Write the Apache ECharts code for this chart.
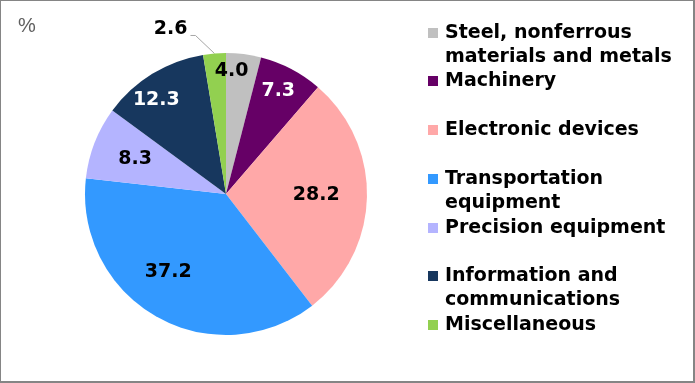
<!DOCTYPE html>
<html>
<head>
<meta charset="utf-8">
<script src="https://cdn.jsdelivr.net/npm/echarts@6/dist/echarts.min.js"></script>
<style>
html,body{margin:0;padding:0;background:#fff;}
#chart{width:695px;height:383px;box-sizing:border-box;border-style:solid;border-color:#858585;border-width:1px 2px 2px 1px;}
</style>
</head>
<body>
<div id="chart"></div>
<script>
// ---- data ----
const categories = [
  "Steel, nonferrous\nmaterials and metals",
  "Machinery",
  "Electronic devices",
  "Transportation\nequipment",
  "Precision equipment",
  "Information and\ncommunications",
  "Miscellaneous"
];
const shares = [4.0, 7.3, 28.2, 37.2, 8.3, 12.3, 2.6];
const unitLabel = "%";

// ---- style ----
const colors = ["#c0c0c0", "#660066", "#ffa8a8", "#3399ff", "#b4b4ff", "#17375e", "#92d050"];
const labelColors = ["#000", "#fff", "#000", "#000", "#000", "#fff", "#000"];
const labelRadiusFactor = [0.87, 0.82, 0.64, 0.69, 0.69, 0.83, null];
const labelAngleAdjust = [-4.6, -0.7, -0.8, 7, -0.5, -5, 0];
const legendLineCenters = [33, 81, 130, 179, 228, 276, 325];
const PIE_CX = 225, PIE_CY = 193, PIE_R = 141;
const FONT = "DejaVu Sans";
const LINE_H = 24;

const chart = echarts.init(document.getElementById('chart'), null, {renderer: 'canvas'});

const legends = categories.map((name, i) => {
  const twoLine = name.indexOf('\n') >= 0;
  return {
    show: true,
    orient: 'vertical',
    left: 427,
    top: twoLine ? legendLineCenters[i] - 36 - 1 : legendLineCenters[i] - 12 - 1,
    padding: 0,
    itemWidth: 10,
    itemHeight: 10,
    icon: 'rect',
    selectedMode: false,
    data: [name],
    formatter: n => (twoLine ? '\n' + n : n),
    textStyle: {
      fontFamily: FONT,
      fontWeight: 'bold',
      fontSize: 19,
      lineHeight: LINE_H,
      color: '#000',
      padding: [0, 0, 0, 2]
    }
  };
});

const pieData = categories.map((name, i) => {
  const d = {
    name: name,
    value: shares[i],
    itemStyle: {color: colors[i]},
    label: {color: labelColors[i]}
  };
  if (labelRadiusFactor[i] == null) {
    d.label.position = 'outside';
    d.labelLine = {show: true, length: 20, length2: 6, lineStyle: {color: '#a6a6a6', width: 1}};
  }
  return d;
});

chart.setOption({
  animation: false,
  backgroundColor: '#fff',
  title: {
    text: unitLabel,
    left: 17,
    top: 15,
    padding: 0,
    textStyle: {fontFamily: 'Liberation Sans', fontWeight: 'normal', fontSize: 20, color: '#5f5f5f'}
  },
  legend: legends,
  series: [{
    type: 'pie',
    center: [PIE_CX, PIE_CY],
    radius: [0, PIE_R],
    startAngle: 90,
    clockwise: true,
    avoidLabelOverlap: false,
    silent: true,
    itemStyle: {borderWidth: 0},
    label: {
      show: true,
      position: 'inside',
      formatter: p => p.value.toFixed(1),
      fontFamily: FONT,
      fontWeight: 'bold',
      fontSize: 19
    },
    labelLine: {show: false},
    labelLayout: function (params) {
      const i = params.dataIndex;
      const f = labelRadiusFactor[i];
      if (f == null) {
        const pts = params.labelLinePoints;
        if (!pts) return {};
        const p0 = pts[0];
        return {
          labelLinePoints: [p0, [p0[0] - 19, p0[1] - 18], [p0[0] - 24, p0[1] - 18]],
          x: p0[0] - 27,
          y: p0[1] - 24,
          align: 'right',
          verticalAlign: 'middle'
        };
      }
      const r = params.labelRect;
      const lx = r.x + r.width / 2, ly = r.y + r.height / 2;
      const vx = lx - PIE_CX, vy = ly - PIE_CY;
      // angle measured clockwise from top
      const ang = Math.atan2(vx, -vy) + labelAngleAdjust[i] * Math.PI / 180;
      const rad = f * PIE_R;
      const tx = PIE_CX + rad * Math.sin(ang);
      const ty = PIE_CY - rad * Math.cos(ang);
      return {dx: tx - lx, dy: ty - ly};
    },
    data: pieData
  }]
});
</script>
</body>
</html>
